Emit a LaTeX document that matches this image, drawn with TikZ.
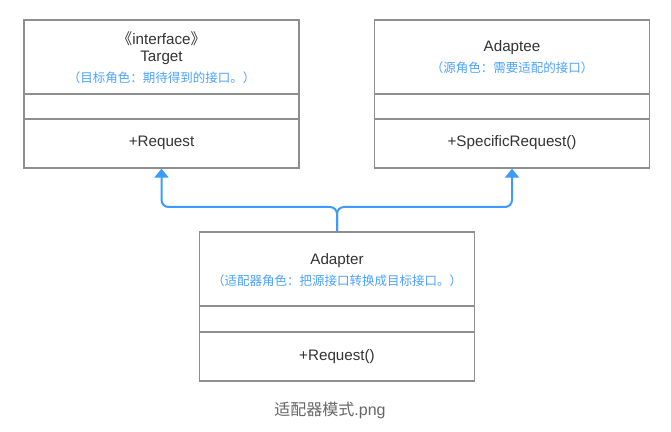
\documentclass[tikz,border=0pt]{standalone}
\usepackage{fontspec}
\setmainfont{Liberation Sans}
\newfontfamily\cjk{Noto Sans CJK SC}
\usetikzlibrary{arrows.meta}
\definecolor{boxgray}{HTML}{8E8E8E}
\definecolor{txtgray}{HTML}{333333}
\definecolor{subblue}{HTML}{4DA3FF}
\definecolor{arrblue}{HTML}{3D9BFF}
\definecolor{capgray}{HTML}{666666}
\tikzset{
  umlbox/.style={draw=boxgray, line width=1.3pt, fill=white, inner sep=0pt, minimum width=275pt, minimum height=148pt},
  sepline/.style={draw=boxgray, line width=1.6pt},
  nametext/.style={text=txtgray, font=\fontsize{15.2}{17}\selectfont, inner sep=0pt},
  subtext/.style={text=subblue, font=\cjk\fontsize{12.5}{14}\selectfont, inner sep=0pt},
  captext/.style={text=capgray, font=\fontsize{16}{18}\selectfont, inner sep=0pt},
  connector/.style={draw=arrblue, line width=2pt, rounded corners=7pt, -{Triangle[width=14pt,length=9pt]}}
}
\begin{document}
\begin{tikzpicture}[x=1pt,y=1pt]
\useasboundingbox (0,0) rectangle (671,431);
% boxes
\node[umlbox] (target) at (161.5,337) {};
\node[umlbox] (adaptee) at (512,337) {};
\node[umlbox, minimum height=149pt] (adapter) at (337,124.5) {};
% separators
\draw[sepline] (target.west |- 0,337) -- (target.east |- 0,337);
\draw[sepline] (target.west |- 0,312) -- (target.east |- 0,312);
\draw[sepline] (adaptee.west |- 0,337) -- (adaptee.east |- 0,337);
\draw[sepline] (adaptee.west |- 0,312) -- (adaptee.east |- 0,312);
\draw[sepline] (adapter.west |- 0,125) -- (adapter.east |- 0,125);
\draw[sepline] (adapter.west |- 0,99) -- (adapter.east |- 0,99);
% texts target
\node[nametext] (tstereo) at (161.5,392) {{\cjk 《}interface{\cjk 》}};
\node[nametext] (tname) at (161.5,373) {Target};
\node[subtext] (tsub) at (161.5,353) {（目标角色：期待得到的接口。）};
\node[nametext] (tmeth) at (161.5,288) {+Request};
% texts adaptee
\node[nametext] (aname) at (512,383) {Adaptee};
\node[subtext] (asub) at (512,363) {（源角色：需要适配的接口）};
\node[nametext] (ameth) at (512,288) {+SpecificRequest()};
% texts adapter
\node[nametext] (dname) at (337,170) {Adapter};
\node[subtext] (dsub) at (337,150) {（适配器角色：把源接口转换成目标接口。）};
\node[nametext] (dmeth) at (337,74) {+Request()};
% caption
\node[captext] (cap) at (330,21) {{\cjk 适配器模式}.png};
% connectors
\coordinate (junc) at (337,224);
\draw[connector] (adapter.north) -- (junc) -| (target.south);
\draw[connector] (adapter.north) -- (junc) -| (adaptee.south);
\end{tikzpicture}
\end{document}
